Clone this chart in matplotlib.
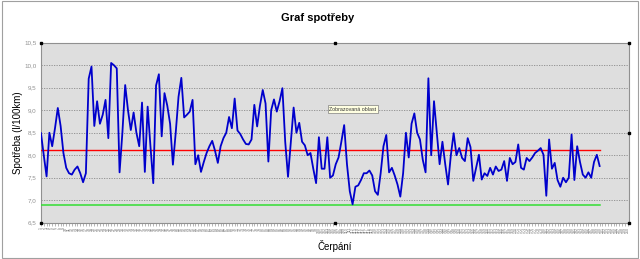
import matplotlib
matplotlib.use("Agg")
import matplotlib.pyplot as plt
from matplotlib.patches import Rectangle

plt.rcParams["font.family"] = ["Liberation Sans", "DejaVu Sans"]

# consumption per refuelling (l/100km)
spotreba = [
    8.49, 8.0, 7.53, 8.5, 8.2, 8.6, 9.05, 8.65, 8.05, 7.72,
    7.6, 7.57, 7.68, 7.75, 7.6, 7.4, 7.6, 9.7, 9.97, 8.65,
    9.2, 8.7, 8.9, 9.23, 8.38, 10.05, 10.0, 9.93, 7.62, 8.5,
    9.56, 9.0, 8.56, 8.95, 8.5, 8.2, 9.17, 7.63, 9.08, 8.2,
    7.38, 9.55, 9.8, 8.42, 9.38, 9.1, 8.7, 7.79, 8.5, 9.3,
    9.72, 8.84, 8.9, 8.97, 9.23, 7.8, 8.0, 7.63, 7.85, 8.05,
    8.2, 8.32, 8.1, 7.83, 8.2, 8.38, 8.5, 8.85, 8.6, 9.26,
    8.55, 8.47, 8.35, 8.25, 8.24, 8.35, 9.12, 8.64, 9.1, 9.45,
    9.15, 7.86, 9.0, 9.24, 8.97, 9.2, 9.49, 8.3, 7.52, 8.3,
    9.06, 8.5, 8.72, 8.3, 8.22, 8.0, 8.05, 7.7, 7.38, 8.4,
    7.7, 7.7, 8.4, 7.5, 7.55, 7.8, 7.95, 8.3, 8.67, 7.8,
    7.2, 6.91, 7.3, 7.33, 7.45, 7.6, 7.6, 7.66, 7.55, 7.2,
    7.12, 7.6, 8.2, 8.45, 7.62, 7.72, 7.55, 7.35, 7.08, 7.6,
    8.5, 7.95, 8.7, 8.93, 8.5, 8.35, 7.9, 7.62, 9.71, 8.0,
    9.2, 8.5, 7.8, 8.3, 7.8, 7.35, 8.0, 8.49, 8.0, 8.16,
    7.94, 7.87, 8.38, 8.18, 7.43, 7.72, 8.01, 7.46, 7.6, 7.54,
    7.72, 7.57, 7.75, 7.65, 7.68, 7.87, 7.43, 7.94, 7.8, 7.85,
    8.24, 7.72, 7.68, 7.94, 7.87, 7.95, 8.05, 8.1, 8.16, 8.01,
    7.1, 8.35, 7.7, 7.83, 7.45, 7.3, 7.5, 7.4, 7.5, 8.46,
    7.45, 8.2, 7.85, 7.57, 7.5, 7.62, 7.5, 7.85, 8.01, 7.76,
]
prumer = 8.12    # red line
minimum = 6.9    # green line
n_kategorii = 210
y_ticks = [6.5, 7.0, 7.5, 8.0, 8.5, 9.0, 9.5, 10.0, 10.5]

n = len(spotreba)
x = list(range(n))

fig = plt.figure(figsize=(6.4, 2.59), dpi=100)
fig.patches.append(Rectangle((0.003, 0.004), 0.994, 0.992, transform=fig.transFigure,
                             fill=False, edgecolor="#a0a0a0", linewidth=0.8))
ax = fig.add_axes([0.064, 0.140, 0.919, 0.695])
ax.set_facecolor("#dedede")

ax.plot(x, [prumer] * n, color="#ff0000", linewidth=1.0, zorder=3)
ax.plot(x, [minimum] * n, color="#33dd33", linewidth=1.1, zorder=3)
ax.plot(x, spotreba, color="#0000cc", linewidth=1.3, zorder=4)

ax.set_xlim(0, n_kategorii - 0.5)
ax.set_ylim(6.5, 10.5)
ax.set_yticks(y_ticks)
ax.set_yticklabels([f"{v:.1f}".replace(".", ",") for v in y_ticks],
                   fontsize=4.5, color="#909090")
ax.grid(axis="y", linestyle=(0, (1.5, 1.5)), color="#8a8a8a", linewidth=0.6)
ax.set_axisbelow(True)
ax.tick_params(axis="y", length=0, pad=3)

ax.set_xticks(range(n_kategorii))
ax.set_xticklabels([str(i + 1) for i in range(n_kategorii)], rotation=90,
                   fontsize=2.6, color="#707070")
ax.tick_params(axis="x", length=2, width=0.4, color="#808080", pad=1)

for side in ax.spines.values():
    side.set_color("#909090")
    side.set_linewidth(0.8)

fig.text(0.497, 0.93, "Graf spotřeby", ha="center", va="center",
         fontsize=8, fontweight="bold")
fig.text(0.028, 0.487, "Spotřeba (l/100km)", rotation=90, ha="center",
         va="center", fontsize=7)
fig.text(0.523, 0.052, "Čerpání", ha="center", va="center", fontsize=7)

ax.text(0.53, 0.63, "Zobrazovaná oblast", transform=ax.transAxes, fontsize=3.8,
        ha="center", va="center", color="#333333", zorder=6,
        bbox=dict(boxstyle="square,pad=0.3", facecolor="#ffffe1",
                  edgecolor="#808080", linewidth=0.5))

# selection handles around the plot area
for hx, hy in [(0, 1), (0.5, 1), (1, 1), (1, 0.5), (1, 0), (0.5, 0), (0, 0)]:
    ax.plot(hx, hy, marker="s", markersize=1.6, color="black",
            transform=ax.transAxes, clip_on=False, zorder=7)

fig.savefig("out.png", dpi=100)
